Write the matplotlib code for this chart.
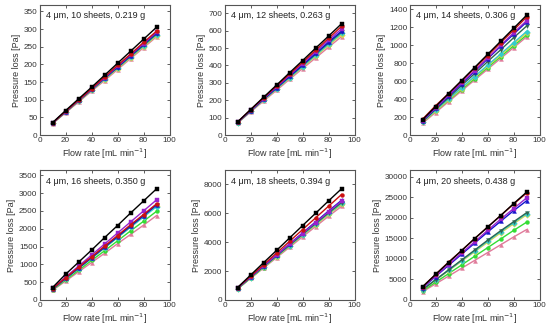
import matplotlib
matplotlib.use("Agg")
import matplotlib.pyplot as plt
from matplotlib.ticker import MultipleLocator

plt.rcParams['font.family'] = ['Liberation Sans', 'DejaVu Sans']

flow = [10, 20, 30, 40, 50, 60, 70, 80, 90]

series_names = ["black", "red", "purple", "blue", "darkgreen", "cyan", "yellow", "green", "pink"]
colors = ["#000000", "#cc1111", "#9922cc", "#1111cc", "#2e6650", "#33cccc", "#d8d84a", "#33dd33", "#e07a9a"]
markers = ["s", "o", "s", "^", "v", "D", "D", "o", "^"]

titles = ["4 \u03bcm, 10 sheets, 0.219 g", "4 \u03bcm, 12 sheets, 0.263 g", "4 \u03bcm, 14 sheets, 0.306 g",
          "4 \u03bcm, 16 sheets, 0.350 g", "4 \u03bcm, 18 sheets, 0.394 g", "4 \u03bcm, 20 sheets, 0.438 g"]

p10 = [
    [35, 69, 102, 135, 169, 203, 237, 271, 305],
    [34, 67, 99, 131, 164, 197, 229, 262, 294],
    [34, 66, 98, 130, 162, 195, 227, 259, 291],
    [34, 66, 98, 129, 161, 193, 225, 257, 289],
    [34, 65, 97, 128, 160, 191, 223, 254, 286],
    [33, 65, 96, 127, 158, 190, 221, 252, 284],
    [33, 64, 95, 126, 157, 188, 219, 250, 281],
    [33, 64, 96, 127, 158, 189, 220, 252, 283],
    [32, 63, 93, 124, 154, 185, 216, 247, 278],
]
p12 = [
    [75, 146, 217, 287, 358, 428, 499, 569, 640],
    [74, 145, 213, 282, 350, 418, 487, 556, 625],
    [73, 142, 210, 277, 344, 411, 478, 545, 610],
    [72, 140, 206, 272, 338, 403, 469, 534, 598],
    [72, 139, 205, 270, 335, 400, 465, 530, 592],
    [71, 137, 202, 266, 330, 394, 458, 522, 585],
    [70, 136, 200, 264, 327, 390, 453, 516, 578],
    [71, 137, 202, 266, 330, 394, 457, 520, 582],
    [68, 132, 195, 257, 320, 382, 443, 505, 566],
]
p14 = [
    [170, 315, 460, 605, 750, 895, 1040, 1185, 1330],
    [175, 325, 460, 600, 740, 880, 1025, 1165, 1310],
    [160, 300, 440, 580, 715, 855, 995, 1135, 1270],
    [155, 295, 430, 570, 705, 845, 985, 1120, 1255],
    [150, 285, 415, 550, 680, 815, 945, 1080, 1210],
    [145, 275, 400, 525, 650, 775, 900, 1025, 1150],
    [140, 265, 390, 515, 640, 765, 885, 1010, 1130],
    [140, 265, 385, 505, 625, 750, 870, 990, 1110],
    [130, 250, 370, 490, 610, 730, 850, 970, 1090],
]
p16 = [
    [350, 720, 1060, 1400, 1750, 2090, 2440, 2780, 3120],
    [320, 620, 920, 1210, 1510, 1810, 2110, 2400, 2700],
    [330, 640, 950, 1260, 1570, 1880, 2190, 2500, 2810],
    [310, 610, 900, 1190, 1490, 1780, 2080, 2370, 2670],
    [310, 600, 900, 1190, 1480, 1780, 2070, 2370, 2680],
    [300, 590, 880, 1170, 1460, 1750, 2040, 2330, 2620],
    [300, 590, 880, 1170, 1460, 1760, 2050, 2340, 2640],
    [280, 560, 830, 1110, 1380, 1660, 1940, 2210, 2490],
    [270, 530, 790, 1050, 1310, 1580, 1840, 2100, 2370],
]
p18 = [
    [860, 1720, 2580, 3430, 4290, 5150, 6000, 6860, 7700],
    [850, 1640, 2440, 3250, 4060, 4870, 5680, 6490, 7300],
    [830, 1600, 2360, 3110, 3870, 4600, 5360, 6110, 6850],
    [820, 1590, 2350, 3120, 3880, 4640, 5400, 6160, 6900],
    [800, 1560, 2310, 3050, 3800, 4550, 5290, 6030, 6750],
    [790, 1550, 2290, 3030, 3770, 4510, 5250, 5990, 6700],
    [780, 1520, 2260, 3000, 3730, 4470, 5200, 5930, 6650],
    [760, 1510, 2250, 3000, 3740, 4480, 5220, 5960, 6620],
    [760, 1490, 2210, 2930, 3650, 4370, 5080, 5800, 6480],
]
p20 = [
    [3200, 6200, 9100, 12000, 14900, 17700, 20500, 23400, 26200],
    [3200, 6200, 9200, 12000, 14900, 17700, 20500, 23300, 26000],
    [3000, 5800, 8600, 11400, 14100, 16900, 19600, 22200, 24800],
    [2900, 5700, 8400, 11100, 13800, 16500, 19100, 21700, 24100],
    [2500, 4900, 7300, 9700, 12100, 14500, 16800, 19000, 21200],
    [2500, 4900, 7200, 9600, 11900, 14300, 16600, 18800, 21000],
    [2400, 4800, 7100, 9400, 11700, 14000, 16300, 18500, 20700],
    [2200, 4300, 6400, 8500, 10600, 12700, 14800, 16900, 18900],
    [2000, 3900, 5800, 7700, 9600, 11500, 13400, 15300, 17100],
]
panels = [p10, p12, p14, p16, p18, p20]
ymax = [368, 748, 1445, 3650, 9000, 31600]
ystep = [50, 100, 200, 500, 2000, 5000]

fig = plt.figure(figsize=(5.5, 3.27), dpi=100)
W, H = 550, 327
lefts = [39.5, 224.5, 409.5]
tops = [5, 170]
aw, ah = 130, 130

for i, data in enumerate(panels):
    r, c = divmod(i, 3)
    ax = fig.add_axes([lefts[c] / W, 1 - (tops[r] + ah) / H, aw / W, ah / H])
    for k in reversed(range(len(data))):
        ax.plot(flow, data[k], color=colors[k], marker=markers[k], markersize=2.8,
                linewidth=1.0, markeredgewidth=0.3)
    ax.set_xlim(0, 100)
    ax.set_ylim(0, ymax[i])
    ax.xaxis.set_major_locator(MultipleLocator(20))
    ax.yaxis.set_major_locator(MultipleLocator(ystep[i]))
    ax.tick_params(which='both', direction='in', top=True, right=True,
                   labelsize=5.9, colors='#444444', labelcolor='#333333', pad=1.5,
                   length=2.5, width=0.6)
    for s in ax.spines.values():
        s.set_color('#555555')
        s.set_linewidth(0.8)
    ax.set_xlabel("Flow rate [mL min$^{-1}$]", fontsize=6.5, color='#333333', labelpad=2)
    ax.set_ylabel("Pressure loss [Pa]", fontsize=6.5, color='#333333', labelpad=2)
    ax.text(0.05, 0.95, titles[i], transform=ax.transAxes, fontsize=6.5,
            va='top', ha='left', color='#222222')

fig.savefig("out.png", dpi=100)
